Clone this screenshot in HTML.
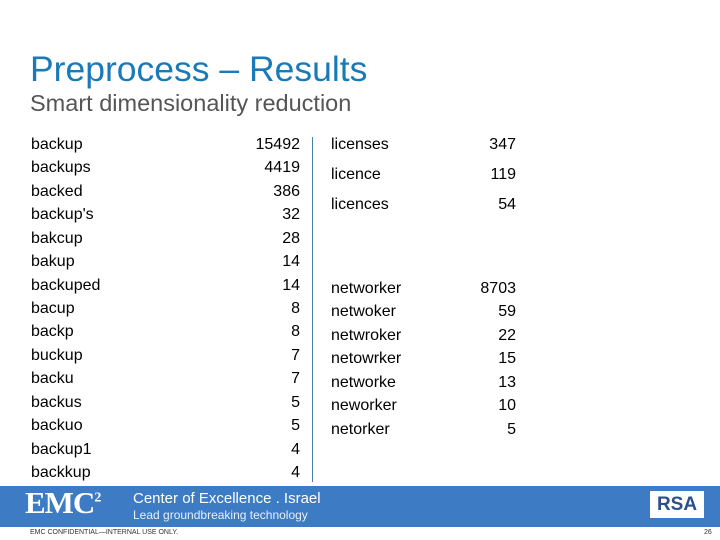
<!DOCTYPE html>
<html><head><meta charset="utf-8"><style>
body{margin:0;width:720px;height:540px;overflow:hidden;background:#fff;position:relative;font-family:"Liberation Sans",sans-serif}
.a{position:absolute;white-space:nowrap}
.r{font-size:16px;color:#000;line-height:20px}
</style></head><body>
<div class="a" style="left:30px;top:49px;font-size:35.5px;color:#1a7ab8">Preprocess – Results</div>
<div class="a" style="left:30px;top:90px;font-size:23.5px;color:#555">Smart dimensionality reduction</div>
<div id="lt"></div>
<div id="rt"></div>
<div class="a" style="left:312px;top:137px;width:1px;height:345px;background:#4a7fa0"></div>
<div class="a" style="left:0;top:486px;width:720px;height:41px;background:#3d7cc4"></div>
<div class="a" style="left:25px;top:485px;font-family:'Liberation Serif',serif;font-weight:bold;font-size:31px;color:#fff;letter-spacing:-1px">EMC<sup style="font-size:14px">2</sup></div>
<div class="a" style="left:133px;top:490px;font-size:15px;color:#fff">Center of Excellence . Israel</div>
<div class="a" style="left:133px;top:508px;font-size:12px;color:#e8eef8">Lead groundbreaking technology</div>
<div class="a" style="left:650px;top:491px;width:54px;height:27px;background:#fff;color:#2a4f8a;font-weight:bold;font-size:19px;text-align:center;line-height:27px">RSA</div>
<div class="a" style="left:30px;top:529px;font-size:7px;color:#333">EMC CONFIDENTIAL—INTERNAL USE ONLY.</div>
<div class="a" style="left:704px;top:529px;font-size:7px;color:#333">26</div>
<script>
const leftWords=["backup","backups","backed","backup's","bakcup","bakup","backuped","bacup","backp","buckup","backu","backus","backuo","backup1","backkup"];
const leftCounts=[15492,4419,386,32,28,14,14,8,8,7,7,5,5,4,4];
const licWords=["licenses","licence","licences"];
const licCounts=[347,119,54];
const netWords=["networker","netwoker","netwroker","netowrker","networke","neworker","netorker"];
const netCounts=[8703,59,22,15,13,10,5];
function row(parent,word,count,x,numRight,y,i){
  const w=document.createElement('div');w.className='a r';
  
  
  w.style.left=x+'px';w.style.top=y+'px';w.textContent=word;parent.appendChild(w);
  const n=document.createElement('div');n.className='a r';
  
  
  n.style.left=(numRight-80)+'px';n.style.width='80px';n.style.textAlign='right';n.style.top=y+'px';n.textContent=count;parent.appendChild(n);
}
const lt=document.getElementById('lt'),rt=document.getElementById('rt');
leftWords.forEach((w,i)=>row(lt,w,leftCounts[i],31,300,135+i*23.43));
licWords.forEach((w,i)=>row(rt,w,licCounts[i],331,516,135+i*30));
netWords.forEach((w,i)=>row(rt,w,netCounts[i],331,516,279+i*23.43));
</script>
</body></html>
